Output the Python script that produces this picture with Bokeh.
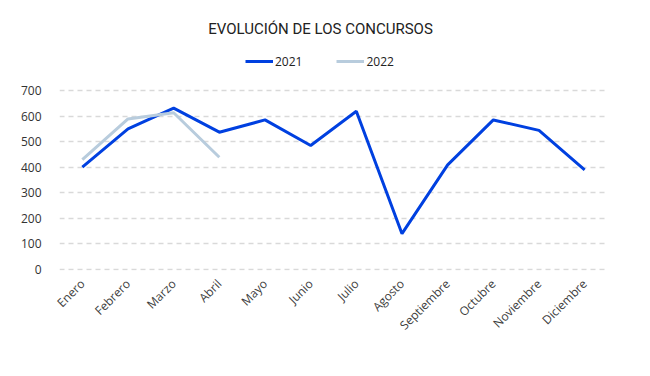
import math
from bokeh.plotting import figure
from bokeh.models import FactorRange, Range1d, FixedTicker, Legend, LegendItem, Label
from bokeh.embed import file_html
from bokeh.resources import INLINE

months = ["Enero", "Febrero", "Marzo", "Abril", "Mayo", "Junio", "Julio",
          "Agosto", "Septiembre", "Octubre", "Noviembre", "Diciembre"]
v2021 = [400, 550, 631, 537, 585, 485, 619, 140, 409, 585, 544, 390]
months_2022 = ["Enero", "Febrero", "Marzo", "Abril"]
v2022 = [430, 589, 613, 439]
y_ticks = [0, 100, 200, 300, 400, 500, 600, 700]

p = figure(width=650, height=376, x_range=FactorRange(*months, range_padding=0),
           y_range=Range1d(-4, 1013), output_backend="svg", toolbar_location=None,
           min_border_left=59, min_border_right=43, min_border_top=10,
           min_border_bottom=106)
p.outline_line_color = None
p.background_fill_color = "white"
p.border_fill_color = "white"

r1 = p.line(months, v2021, line_color="#0040E0", line_width=3)
r2 = p.line(months_2022, v2022, line_color="#B8CCDD", line_width=3)

p.xgrid.grid_line_color = None
p.ygrid.grid_line_color = "#D9D9D9"
p.ygrid.grid_line_dash = "5 4"
p.ygrid.grid_line_width = 1.3
p.yaxis.ticker = FixedTicker(ticks=y_ticks)

for ax in (p.xaxis, p.yaxis):
    ax.axis_line_color = None
    ax.major_tick_line_color = None
    ax.minor_tick_line_color = None
    ax.major_label_text_font = "Open Sans"

p.yaxis.major_label_text_font_size = "12px"
p.yaxis.major_label_text_color = "#333333"
p.yaxis.major_label_standoff = 12
p.xaxis.major_label_text_font_size = "12px"
p.xaxis.major_label_text_color = "#404040"
p.xaxis.major_label_orientation = math.pi / 4
p.xaxis.major_label_standoff = 5

title = Label(x=261, y=242, x_units="screen", y_units="screen",
              text="EVOLUCIÓN DE LOS CONCURSOS", text_font="Roboto",
              text_font_size="15px", text_color="#222222",
              text_align="center", text_baseline="middle")
p.add_layout(title)

legend = Legend(items=[LegendItem(label="2021", renderers=[r1]),
                       LegendItem(label="2022", renderers=[r2])],
                orientation="horizontal", location=(186, 199),
                border_line_color=None, background_fill_alpha=0,
                label_text_font="Open Sans", label_text_font_size="12px",
                label_text_color="#222222", glyph_width=28, spacing=34,
                label_standoff=2, padding=0, margin=0)
p.add_layout(legend, "center")

open("out.html", "w").write(file_html(p, INLINE))
